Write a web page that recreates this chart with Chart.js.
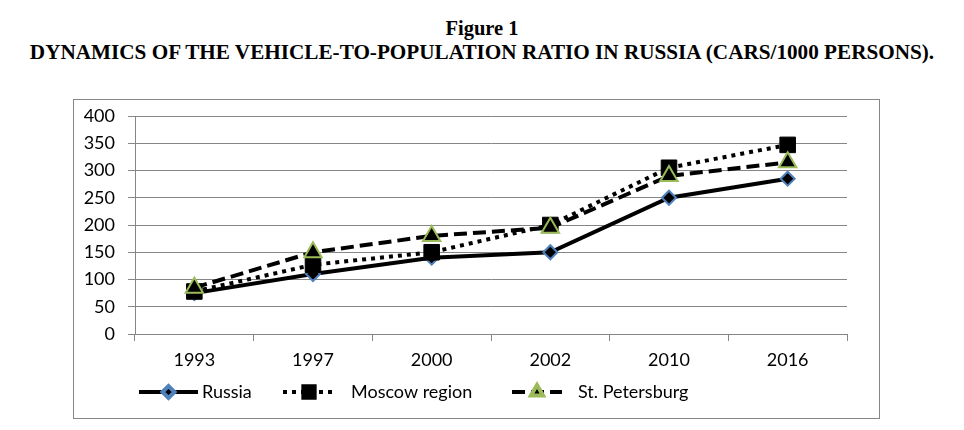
<!DOCTYPE html>
<html>
<head>
<meta charset="utf-8">
<script src="https://cdn.jsdelivr.net/npm/chart.js@4.4.1/dist/chart.umd.min.js"></script>
<style>
  html, body { margin: 0; padding: 0; background: #fff; }
  body { width: 964px; height: 430px; position: relative; overflow: hidden; }
  .caption {
    position: absolute; left: 0; width: 964px; text-align: center;
    font-family: "Liberation Serif", "Times New Roman", serif; font-weight: bold;
    color: #000; white-space: nowrap; line-height: 24px;
  }
  #cap1 { top: 16px; font-size: 20.5px; }
  #cap2 { top: 40px; font-size: 21.2px; }
  .box {
    position: absolute; left: 73px; top: 99px; width: 807px; height: 320px;
    border: 1px solid #868686; box-sizing: border-box;
  }
</style>
</head>
<body>
<div class="caption" id="cap1">Figure 1</div>
<div class="caption" id="cap2">DYNAMICS OF THE VEHICLE-TO-POPULATION RATIO IN RUSSIA (CARS/1000 PERSONS).</div>
<div class="box"><canvas id="ratioChart"></canvas></div>
<script>
// === DATA ===
const years = ['1993', '1997', '2000', '2002', '2010', '2016'];
const russia = [75, 110, 140, 150, 250, 285];
const moscowRegion = [78, 127, 150, 200, 305, 347];
const stPetersburg = [85, 150, 180, 195, 290, 315];
const seriesNames = ['Russia', 'Moscow region', 'St. Petersburg'];
const yTicks = [0, 50, 100, 150, 200, 250, 300, 350, 400];

const GRID = '#868686';
const FONT = { family: 'Lato', size: 18 };

// Excel-like legend: sample line + marker + label, drawn under the axis
const legendPlugin = {
    id: 'excelLegend',
    afterDraw(chart) {
        const ctx = chart.ctx;
        const y = chart.chartArea.bottom + 58;
        // [line start, line end, text x, marker radius]
        const slots = [[65, 124, 128, 6], [209, 261, 277, 8], [438, 488, 504, 7]];
        chart.data.datasets.forEach((ds, i) => {
            const [x0, x1, tx, r] = slots[i];
            ctx.save();
            ctx.strokeStyle = ds.borderColor;
            ctx.lineWidth = ds.borderWidth;
            ctx.setLineDash(ds.borderDash || []);
            ctx.beginPath();
            ctx.moveTo(x0, y);
            ctx.lineTo(x1, y);
            ctx.stroke();
            ctx.setLineDash([]);
            ctx.fillStyle = ds.pointBackgroundColor;
            ctx.strokeStyle = ds.pointBorderColor;
            Chart.helpers.drawPoint(ctx, {
                pointStyle: ds.pointStyle, radius: r, rotation: 0,
                borderWidth: ds.pointBorderWidth
            }, (x0 + x1) / 2, y);
            ctx.fillStyle = '#000';
            ctx.font = FONT.size + 'px ' + FONT.family;
            ctx.textBaseline = 'middle';
            ctx.textAlign = 'left';
            ctx.fillText(seriesNames[i], tx, y);
            ctx.restore();
        });
    }
};

const ctx = document.getElementById('ratioChart').getContext('2d');

new Chart(ctx, {
    type: 'line',
    data: {
        labels: years,
        datasets: [
            {
                label: seriesNames[0],
                data: russia,
                borderColor: '#000',
                borderWidth: 4,
                pointStyle: 'rectRot',
                pointRadius: 7,
                pointBackgroundColor: '#000',
                pointBorderColor: '#4F81BD',
                pointBorderWidth: 2,
                order: 3
            },
            {
                label: seriesNames[1],
                data: moscowRegion,
                borderColor: '#000',
                borderWidth: 4,
                borderDash: [4, 5],
                pointStyle: 'rect',
                pointRadius: 11,
                pointBackgroundColor: '#000',
                pointBorderColor: '#000',
                pointBorderWidth: 1,
                order: 2
            },
            {
                label: seriesNames[2],
                data: stPetersburg,
                borderColor: '#000',
                borderWidth: 4,
                borderDash: [13, 6],
                pointStyle: 'triangle',
                pointRadius: 10,
                pointBackgroundColor: '#000',
                pointBorderColor: '#9BBB59',
                pointBorderWidth: 2,
                order: 1
            }
        ]
    },
    options: {
        responsive: true,
        maintainAspectRatio: false,
        animation: false,
        tension: 0,
        layout: { padding: { top: 16, right: 32, left: 0, bottom: 0 } },
        plugins: {
            legend: { display: false },
            tooltip: { enabled: false }
        },
        scales: {
            x: {
                offset: true,
                grid: {
                    offset: true,
                    drawOnChartArea: false,
                    drawTicks: true,
                    tickLength: 7,
                    color: GRID,
                    lineWidth: 1
                },
                border: { color: GRID, width: 1 },
                ticks: { color: '#000', font: FONT, padding: 8, maxRotation: 0 },
                afterFit: (scale) => { scale.height = 84; }
            },
            y: {
                min: 0,
                max: 400,
                afterBuildTicks: (scale) => { scale.ticks = yTicks.map(v => ({ value: v })); },
                grid: { color: GRID, lineWidth: 1, tickLength: 7 },
                border: { color: GRID, width: 1 },
                ticks: { color: '#000', font: FONT, padding: 13 },
                afterFit: (scale) => {
                    scale.width = 61;
                    scale.paddingTop = 0;
                    scale.paddingBottom = 0;
                }
            }
        }
    },
    plugins: [legendPlugin]
});
</script>
</body>
</html>
